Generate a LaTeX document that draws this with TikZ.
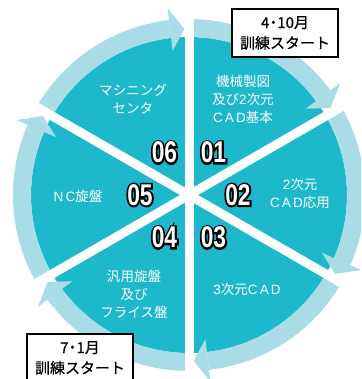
\documentclass[tikz,border=0pt]{standalone}
\usepackage{fontspec}
\newfontfamily\jp{Noto Sans CJK JP}
\newfontfamily\jpb{Noto Sans CJK JP}[FakeBold=0.6]
\newfontfamily\lat{Liberation Sans}[LetterSpace=16]
\newfontfamily\numfont{Liberation Sans Bold}[FakeStretch=0.76]
\newfontfamily\numfontol{Liberation Sans Bold}[FakeStretch=0.76,FakeBold=12]
\newcommand{\olnum}[1]{\rlap{\color{black}\numfontol #1}#1}
\newcommand{\la}[1]{{\lat #1}}
\definecolor{piecol}{HTML}{1EB8CD}
\definecolor{ringcol}{HTML}{A9DCE6}
\tikzset{
  lbl/.style={text=white, align=center, font=\jp\fontsize{13.5}{18}\selectfont, inner sep=0pt},
  num/.style={text=white, font=\numfont\fontsize{30}{30}\selectfont, inner sep=0pt},
  startbox/.style={draw=black, line width=2pt, fill=white, text=black, align=center,
    minimum width=106pt, minimum height=48pt, inner sep=0pt,
    font=\jpb\fontsize{15}{20.5}\selectfont},
  spoke/.style={white, line width=9pt},
  ringarc/.style={ringcol, line width=18pt},
}
\newcommand{\md}{\kern-3.5pt・\kern-3.5pt}
\begin{document}
\begin{tikzpicture}[x=1pt,y=1pt]
\useasboundingbox (-189,-184) rectangle (172,195);
\clip (-189,-184) rectangle (172,195);
% pie
\fill[piecol] (0,0) circle (158);
% ring arrows
\foreach \a in {90,30,-30,-90,-150,150}{
  \draw[ringarc] (\a:167) arc[start angle=\a, end angle=\a-53.5, radius=167];
  \fill[ringcol] (\a-53.5:145) -- (\a-58.4:166) -- (\a-53.5:188) -- cycle;
}
% spokes
\coordinate (s1) at (90:200);  \coordinate (s4) at (-90:200);
\coordinate (s2) at (30:200);  \coordinate (s5) at (-150:200);
\coordinate (s3) at (-30:200); \coordinate (s6) at (150:200);
\draw[spoke] (s1) -- (s4);
\draw[spoke] (s2) -- (s5);
\draw[spoke] (s3) -- (s6);
% numbers
\node[num] (n01) at (60:49)   {\olnum{01}};
\node[num] (n02) at (0:49)    {\olnum{02}};
\node[num] (n03) at (-60:49)  {\olnum{03}};
\node[num] (n04) at (-120:49) {\olnum{04}};
\node[num] (n05) at (180:49)  {\olnum{05}};
\node[num] (n06) at (120:49)  {\olnum{06}};
% labels
\node[lbl] (l01) at (54,96)    {機械製図\\及び\la{2}次元\\\la{CAD}基本};
\node[lbl] (l06) at (-56,96)   {マシニング\\センタ};
\node[lbl] (l02) at (111,2)    {\la{2}次元\\\la{CAD}応用};
\node[lbl] (l05) at (-111,-1)  {\la{NC}旋盤};
\node[lbl] (l04) at (-55,-99)  {汎用旋盤\\及び\\フライス盤};
\node[lbl] (l03) at (58,-94)   {\la{3}次元\la{CAD}};
% start boxes
\node[startbox] (b1) at (96,162)     {4\md 10月\\訓練スタート};
\node[startbox] (b2) at (-109,-163)  {7\md 1月\\訓練スタート};
\end{tikzpicture}
\end{document}
